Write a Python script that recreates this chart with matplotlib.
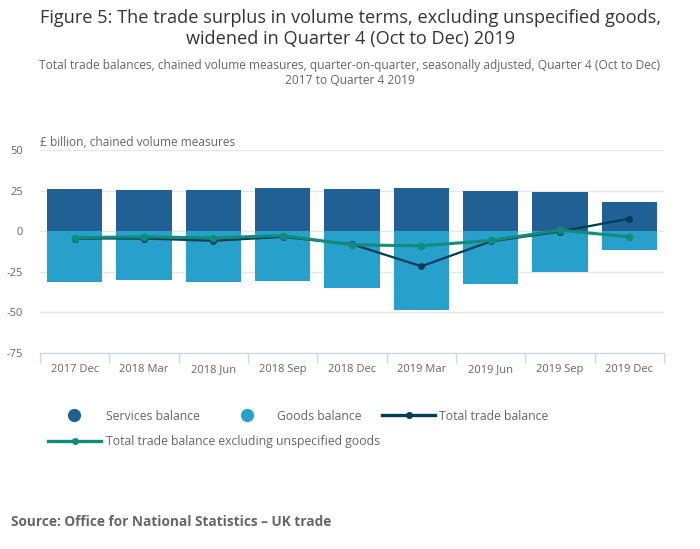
import numpy as np
import matplotlib
matplotlib.use("Agg")
import matplotlib.pyplot as plt
from matplotlib.lines import Line2D

plt.rcParams['font.family'] = ['Open Sans', 'DejaVu Sans']

quarters = ["2017 Dec", "2018 Mar", "2018 Jun", "2018 Sep", "2018 Dec",
            "2019 Mar", "2019 Jun", "2019 Sep", "2019 Dec"]
services = [25.8, 25.2, 25.2, 26.4, 25.8, 26.4, 24.6, 24.0, 17.9]
goods = [-31.5, -30.1, -31.5, -30.9, -35.2, -48.6, -32.7, -25.4, -11.4]
total = [-4.5, -4.5, -5.9, -3.5, -8.0, -21.6, -6.3, -0.2, 7.7]
total_excl = [-3.9, -3.5, -4.1, -2.7, -8.4, -9.0, -5.7, 0.6, -3.5]
yticks = [50, 25, 0, -25, -50, -75]

c_serv = "#206095"
c_goods = "#27a0cc"
c_total = "#003c57"
c_excl = "#118c7b"
grey = "#666666"

fig = plt.figure(figsize=(7, 5.49), dpi=100)
ax = fig.add_axes([40 / 700, 1 - 353 / 549, 624 / 700, 203 / 549])

x = np.arange(len(quarters))
ax.bar(x, services, width=0.8, color=c_serv, zorder=2)
ax.bar(x, goods, width=0.8, color=c_goods, zorder=2)
ax.plot(x, total, color=c_total, lw=1.6, marker="o", ms=4, zorder=3)
ax.plot(x, total_excl, color=c_excl, lw=2.2, marker="o", ms=4.5, zorder=4)

ax.set_xlim(-0.5, len(quarters) - 0.5)
ax.set_ylim(-75, 50)
ax.set_yticks(yticks)
ax.set_yticklabels([str(v) for v in yticks])
ax.set_xticks(x)
ax.set_xticklabels(quarters)
ax.set_xticks(np.arange(-0.5, len(quarters)), minor=True)
ax.tick_params(axis="x", which="major", length=0, pad=8, labelsize=8, colors=grey)
ax.tick_params(axis="x", which="minor", length=7, color="#ccd6eb", width=1)
ax.tick_params(axis="y", length=0, pad=12, labelsize=8, colors=grey)
for t in ax.get_yticklabels():
    t.set_color(grey)
for t in ax.get_xticklabels():
    t.set_color(grey)

for v in yticks[:-1]:
    ax.axhline(v, color="#e6e6e6", lw=1, zorder=1)
for s in ["top", "right", "left"]:
    ax.spines[s].set_visible(False)
ax.spines["bottom"].set_color("#ccd6eb")
ax.spines["bottom"].set_linewidth(1)


def fy(p):
    return 1 - p / 549


def fx(p):
    return p / 700


# titles
fig.text(fx(351), fy(18), "Figure 5: The trade surplus in volume terms, excluding unspecified goods,",
         ha="center", va="center", fontsize=13.1, color="#333333")
fig.text(fx(351), fy(39), "widened in Quarter 4 (Oct to Dec) 2019",
         ha="center", va="center", fontsize=13.1, color="#333333")
fig.text(fx(350), fy(65),
         "Total trade balances, chained volume measures, quarter-on-quarter, seasonally adjusted, Quarter 4 (Oct to Dec)",
         ha="center", va="center", fontsize=8.65, color=grey)
fig.text(fx(350), fy(80), "2017 to Quarter 4 2019",
         ha="center", va="center", fontsize=8.65, color=grey)
fig.text(fx(40), fy(143), "£ billion, chained volume measures",
         ha="left", va="center", fontsize=8.55, color=grey)

# legend
lfs = 8.8
fig.add_artist(Line2D([fx(74)], [fy(415)], marker="o", ms=8.5, color=c_serv, lw=0))
fig.text(fx(106), fy(416), "Services balance", va="center", fontsize=lfs, color=grey)
fig.add_artist(Line2D([fx(247)], [fy(415)], marker="o", ms=8.5, color=c_goods, lw=0))
fig.text(fx(277), fy(416), "Goods balance", va="center", fontsize=lfs, color=grey)
fig.add_artist(Line2D([fx(382), fx(435)], [fy(415), fy(415)], color=c_total, lw=2.4))
fig.add_artist(Line2D([fx(409)], [fy(415)], marker="o", ms=4, color=c_total, lw=0))
fig.text(fx(439), fy(416), "Total trade balance", va="center", fontsize=lfs, color=grey)
fig.add_artist(Line2D([fx(48), fx(101)], [fy(441), fy(441)], color=c_excl, lw=2.4))
fig.add_artist(Line2D([fx(75)], [fy(441)], marker="o", ms=4, color=c_excl, lw=0))
fig.text(fx(106), fy(442), "Total trade balance excluding unspecified goods",
         va="center", fontsize=lfs, color=grey)

fig.text(fx(11), fy(522), "Source: Office for National Statistics – UK trade",
         va="center", fontsize=9.8, fontweight="bold", color=grey)

fig.savefig("out.png", dpi=100)
